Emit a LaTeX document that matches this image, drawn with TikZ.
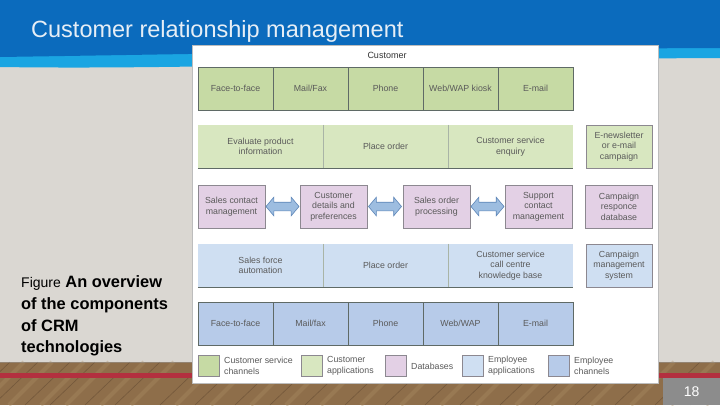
\documentclass[tikz,border=0pt]{standalone}
\usepackage{fontspec}
\setmainfont{Liberation Sans}
\usetikzlibrary{shapes.arrows,calc}
\definecolor{darkblue}{HTML}{0B6BBD}
\definecolor{lightblue}{HTML}{1AA5E2}
\definecolor{titletext}{HTML}{E6EEF6}
\definecolor{bggray}{HTML}{DAD7D2}
\definecolor{woodbase}{HTML}{8E6E4A}
\definecolor{wooddark}{HTML}{5E4630}
\definecolor{woodlight}{HTML}{AD8E64}
\definecolor{redline}{HTML}{B3303F}
\definecolor{pagegray}{HTML}{8C8C8C}
\definecolor{chanGfill}{HTML}{C6DAA4}
\definecolor{appGfill}{HTML}{D8E7C0}
\definecolor{dbfill}{HTML}{E3D0E5}
\definecolor{appBfill}{HTML}{CFDFF2}
\definecolor{chanBfill}{HTML}{B7CBE9}
\definecolor{boxline}{HTML}{5F6A66}
\definecolor{dbline}{HTML}{8C8890}
\definecolor{seamline}{HTML}{A9B4A6}
\definecolor{arrowfill}{HTML}{9DBDE0}
\definecolor{arrowline}{HTML}{5E86B8}
\definecolor{boxtext}{HTML}{5A5A5A}
\definecolor{panelline}{HTML}{BDBDBD}
\newcommand{\boxfont}{\fontsize{8.8}{10.6}\selectfont}
\begin{document}
\begin{tikzpicture}[x=1pt,y=-1pt,
  cell/.style={minimum height=43pt, inner sep=1pt, font=\boxfont, text=boxtext, align=center},
  chanG/.style={cell, draw=boxline, line width=0.8pt, fill=chanGfill, minimum width=75pt},
  chanB/.style={cell, draw=boxline, line width=0.8pt, fill=chanBfill, minimum width=75pt},
  appG/.style={cell, fill=appGfill, minimum width=125pt},
  appB/.style={cell, fill=appBfill, minimum width=125pt},
  sideG/.style={cell, draw=dbline, line width=0.6pt, fill=appGfill, minimum width=66pt},
  sideB/.style={cell, draw=dbline, line width=0.6pt, fill=appBfill, minimum width=66pt},
  db/.style={cell, draw=dbline, line width=0.6pt, fill=dbfill, minimum width=67pt},
  seam/.style={draw=seamline, line width=0.6pt},
  rowline/.style={draw=boxline, line width=0.8pt},
  dblarrow/.style={double arrow, draw=arrowline, fill=arrowfill, line width=0.6pt,
    minimum height=33pt, double arrow head extend=5pt, double arrow tip angle=100, inner sep=0pt},
  swatch/.style={draw=dbline, line width=0.6pt, minimum width=21pt, minimum height=21pt, inner sep=0pt},
  legtext/.style={anchor=west, font=\boxfont, text=boxtext, align=left, inner sep=0pt},
  capline/.style={anchor=base west, inner sep=0pt, font=\fontsize{16.4}{20}\selectfont\bfseries, text=black}
]
\useasboundingbox (0,0) rectangle (720,405);
% slide background
\fill[bggray] (0,40) rectangle (720,362);
\fill[woodbase] (0,362) rectangle (720,405);
\foreach \x in {10,38,70,95,130,160,205,240,280,315,350,390,430,470,505,545,580,620,660,700,735}{
  \draw[woodlight, line width=4pt, opacity=0.35] (\x+14,362) -- (\x-29,405);
  \draw[wooddark, line width=0.6pt, opacity=0.55] (\x,362) -- (\x-45,405);
}
\draw[black!40, line width=1pt, opacity=0.5] (0,362.5) -- (720,362.5);
\fill[redline] (0,373) rectangle (720,378);
\fill[lightblue] (0,0) -- (720,0) -- (720,58) .. controls (450,59) and (200,70) .. (0,67) -- cycle;
\fill[darkblue] (0,0) -- (720,0) -- (720,48) .. controls (450,49) and (200,54) .. (0,57) -- cycle;
\node[anchor=base west, inner sep=0pt, font=\fontsize{23.5}{28}\selectfont, text=titletext] (title) at (31,37) {Customer relationship management};
% caption
\node[capline] (cap1) at (21,287.5) {{\fontsize{14}{16}\mdseries\selectfont Figure} An overview};
\node[capline] (cap2) at (21,309) {of the components};
\node[capline] (cap3) at (21,331) {of CRM};
\node[capline] (cap4) at (21,352) {technologies};
% page number
\node[fill=pagegray, minimum width=57pt, minimum height=27pt, anchor=north west, inner sep=0pt,
  text=white, font=\fontsize{14}{16}\selectfont] (page) at (663,378) {18};
% figure panel
\node[draw=panelline, line width=0.6pt, fill=white, minimum width=466pt, minimum height=338pt,
  anchor=north west, inner sep=0pt] (panel) at (192,45) {};
\node[font=\fontsize{9}{11}\selectfont, text=black!80] (cust) at (387,55) {Customer};
% row 1: customer service channels
\node[chanG] (c1) at (235.5,88.5) {Face-to-face};
\node[chanG] (c2) at (310.5,88.5) {Mail/Fax};
\node[chanG] (c3) at (385.5,88.5) {Phone};
\node[chanG] (c4) at (460.5,88.5) {Web/WAP kiosk};
\node[chanG] (c5) at (535.5,88.5) {E-mail};
% row 2: customer applications
\node[appG] (a1) at (260.5,146.5) {Evaluate product\\information};
\node[appG] (a2) at (385.5,146.5) {Place order};
\node[appG] (a3) at (510.5,146.5) {Customer service\\enquiry};
\draw[seam] (a1.north east) -- (a1.south east);
\draw[seam] (a2.north east) -- (a2.south east);
\draw[rowline] (a1.south west) -- (a3.south east);
\node[sideG] (a4) at (619,146.5) {E-newsletter\\or e-mail\\campaign};
% row 3: databases
\node[db] (d1) at (231.5,206.5) {Sales contact\\management};
\node[db] (d2) at (333.5,206.5) {Customer\\details and\\preferences};
\node[db] (d3) at (436.5,206.5) {Sales order\\processing};
\node[db] (d4) at (538.5,206.5) {Support\\contact\\management};
\node[db] (d5) at (619,206.5) {Campaign\\responce\\database};
\node[dblarrow] (ar1) at ($(d1.east)!0.5!(d2.west)$) {\rule{0pt}{8pt}};
\node[dblarrow] (ar2) at ($(d2.east)!0.5!(d3.west)$) {\rule{0pt}{8pt}};
\node[dblarrow] (ar3) at ($(d3.east)!0.5!(d4.west)$) {\rule{0pt}{8pt}};
% row 4: employee applications
\node[appB] (e1) at (260.5,265.5) {Sales force\\automation};
\node[appB] (e2) at (385.5,265.5) {Place order};
\node[appB] (e3) at (510.5,265.5) {Customer service\\call centre\\knowledge base};
\draw[seam] (e1.north east) -- (e1.south east);
\draw[seam] (e2.north east) -- (e2.south east);
\draw[rowline] (e1.south west) -- (e3.south east);
\node[sideB] (e4) at (619,265.5) {Campaign\\management\\system};
% row 5: employee channels
\node[chanB] (f1) at (235.5,323.5) {Face-to-face};
\node[chanB] (f2) at (310.5,323.5) {Mail/fax};
\node[chanB] (f3) at (385.5,323.5) {Phone};
\node[chanB] (f4) at (460.5,323.5) {Web/WAP};
\node[chanB] (f5) at (535.5,323.5) {E-mail};
% legend
\node[swatch, fill=chanGfill] (l1) at (208.5,366) {};
\node[legtext] (t1) at (224,366) {Customer service\\channels};
\node[swatch, fill=appGfill] (l2) at (311.5,366) {};
\node[legtext] (t2) at (327,366) {Customer\\applications};
\node[swatch, fill=dbfill] (l3) at (396,366) {};
\node[legtext] (t3) at (411,366) {Databases};
\node[swatch, fill=appBfill] (l4) at (473,366) {};
\node[legtext] (t4) at (488,366) {Employee\\applications};
\node[swatch, fill=chanBfill] (l5) at (558.5,366) {};
\node[legtext] (t5) at (574,366) {Employee\\channels};
\end{tikzpicture}
\end{document}
